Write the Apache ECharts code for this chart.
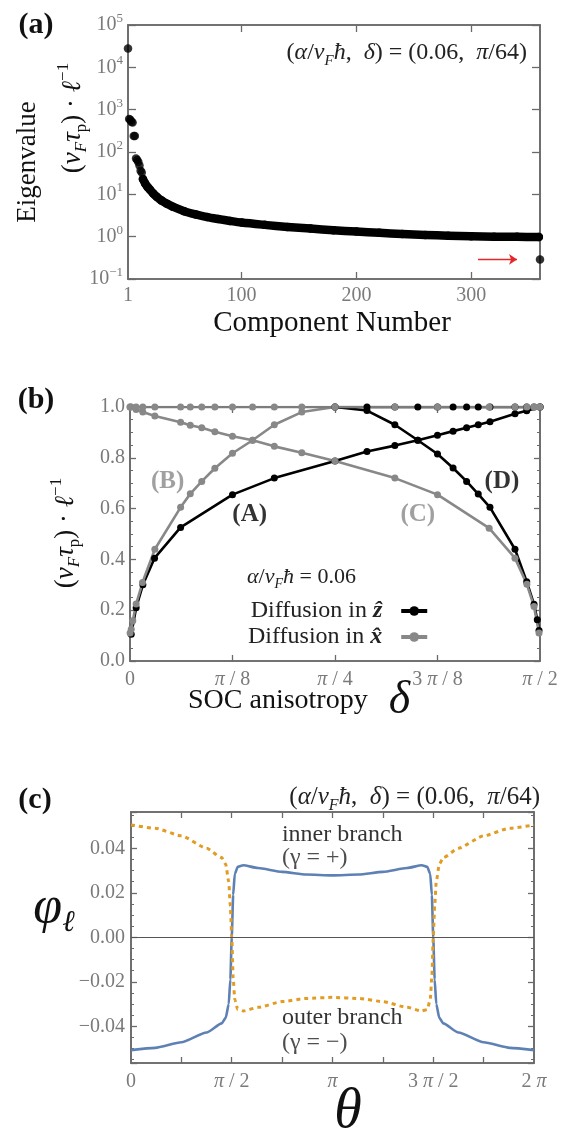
<!DOCTYPE html>
<html>
<head>
<meta charset="utf-8">
<title>Eigenvalues and spin diffusion</title>
<style>
  html, body { margin: 0; padding: 0; background: #fff; }
  #chart { width: 578px; height: 1136px; }
</style>
<script src="https://cdn.jsdelivr.net/npm/echarts@6/dist/echarts.min.js"></script>
</head>
<body>
<div id="chart"></div>
<script>
// ---- panel (a): eigenvalue spectrum ----
const eigEarly = [[1, 28000], [2, 600], [3, 580], [4, 520], [5, 500], [6, 240], [7, 240],
  [8, 70], [9, 65], [10, 58], [11, 48], [12, 36], [13, 33]];
const eigTail = [[14, 23], [16, 18], [18, 15], [20, 13], [23, 10.5], [26, 8.8], [30, 7.2],
  [35, 6.0], [40, 5.1], [50, 4.0], [60, 3.35], [70, 2.9], [80, 2.6], [90, 2.35], [100, 2.15],
  [120, 1.9], [140, 1.7], [160, 1.55], [180, 1.42], [200, 1.32], [220, 1.23], [240, 1.16],
  [260, 1.1], [280, 1.05], [300, 1.02], [320, 1.0], [340, 0.99], [359, 0.98]];
const eigLast = [[360, 0.29]];
const compTicks = [1, 100, 200, 300];

// ---- panel (b): delta in units of pi ----
const zRise = [[0.0015, 0.105], [0.0075, 0.21], [0.0157, 0.30], [0.0299, 0.405], [0.0617, 0.526],
  [0.125, 0.655], [0.176, 0.72], [0.25, 0.787], [0.289, 0.825], [0.323, 0.848], [0.351, 0.869],
  [0.375, 0.889], [0.394, 0.905], [0.4105, 0.918], [0.4247, 0.93], [0.439, 0.942],
  [0.4695, 0.973], [0.4838, 0.985], [0.5, 1.0]];
const zFall = [[0.25, 1.0], [0.289, 0.986], [0.323, 0.93], [0.351, 0.869], [0.375, 0.815],
  [0.394, 0.76], [0.4105, 0.707], [0.4247, 0.657], [0.439, 0.605], [0.4695, 0.44],
  [0.4838, 0.312], [0.4927, 0.223], [0.4967, 0.162], [0.4988, 0.12]];
const zTop = [[0.25, 1], [0.289, 1], [0.323, 1], [0.351, 1], [0.375, 1], [0.394, 1], [0.4105, 1],
  [0.4247, 1], [0.439, 1], [0.4695, 1], [0.4838, 1], [0.4927, 1], [0.5, 1]];
const xRise = [[0.0001, 0.11], [0.0015, 0.125], [0.0034, 0.158], [0.0075, 0.224], [0.0152, 0.309],
  [0.0303, 0.44], [0.0617, 0.605], [0.0735, 0.658], [0.0875, 0.707], [0.1035, 0.759],
  [0.125, 0.818], [0.1495, 0.869], [0.176, 0.93], [0.2095, 0.98], [0.25, 1.0]];
const xFall = [[0.0001, 1.0], [0.0075, 0.99], [0.0156, 0.98], [0.0303, 0.965], [0.0617, 0.94],
  [0.0735, 0.928], [0.0875, 0.918], [0.1035, 0.903], [0.125, 0.885], [0.1495, 0.869],
  [0.176, 0.845], [0.2095, 0.82], [0.25, 0.787], [0.323, 0.72], [0.375, 0.655], [0.438, 0.523],
  [0.4695, 0.405], [0.484, 0.302], [0.4927, 0.215], [0.4988, 0.11]];
const xTop = [[0.0001, 1], [0.0015, 1], [0.0075, 1], [0.0156, 1], [0.0303, 1], [0.0617, 1], [0.0735, 1],
  [0.0875, 1], [0.1035, 1], [0.125, 1], [0.1495, 1], [0.176, 1], [0.2095, 1], [0.25, 1], [0.323, 1],
  [0.375, 1], [0.438, 1], [0.4695, 1], [0.484, 1], [0.4927, 1], [0.4988, 1], [0.5, 1]];
const deltaLabels = { 0: '{n|0}', 125: '{i|π}{n| / 8}', 250: '{i|π}{n| / 4}', 375: '{n|3 }{i|π}{n| / 8}', 500: '{i|π}{n| / 2}' };

// ---- panel (c): theta in units of pi ----
const theta = [0.0001, 0.12, 0.25, 0.375, 0.45, 0.47, 0.485, 0.493, 0.5, 0.507, 0.515, 0.53, 0.557, 0.63, 0.75, 0.87, 1,
  1.13, 1.25, 1.37, 1.443, 1.47, 1.485, 1.493, 1.5, 1.507, 1.515, 1.53, 1.55, 1.625, 1.75, 1.88, 2];
const innerBranch = [-0.0507, -0.0497, -0.0472, -0.0428, -0.0387, -0.0362, -0.030, -0.019, 0, 0.019, 0.0285, 0.0317, 0.0324, 0.0311, 0.0294, 0.0282, 0.0278,
  0.0282, 0.0294, 0.0311, 0.0324, 0.0317, 0.0285, 0.019, 0, -0.019, -0.030, -0.0362, -0.0387, -0.0428, -0.0472, -0.0497, -0.0507];
const outerBranch = [0.0505, 0.049, 0.0456, 0.040, 0.0358, 0.0328, 0.025, 0.014, 0, -0.018, -0.028, -0.0325, -0.0331, -0.0315, -0.0289, -0.0275, -0.027,
  -0.0275, -0.0289, -0.0315, -0.0331, -0.0325, -0.028, -0.018, 0, 0.014, 0.025, 0.0328, 0.0358, 0.040, 0.0456, 0.049, 0.0505];
const thetaLabels = { 0: '{n|0}', 500: '{i|π}{n| / 2}', 1000: '{i|π}', 1500: '{n|3 }{i|π}{n| / 2}', 2000: '{n|2 }{i|π}' };

const FONT = 'Liberation Serif';
const FRAME = '#6a6a6a';
const TICKTXT = '#7a7a7a';
// tiny positive start keeps the x range off zero so the right-hand y axes stay on the right
const X0 = 1e-7;

// rich text styles: n upright, i italic, s italic subscript, r upright subscript, u superscript
function mathRich(size, color, key) {
  const c = {}; c[key] = color;
  const small = Math.round(size * 0.64);
  return {
    n: Object.assign({ fontFamily: FONT, fontSize: size, lineHeight: Math.round(size * 1.3) }, c),
    i: Object.assign({ fontFamily: FONT, fontSize: size, fontStyle: 'italic', lineHeight: Math.round(size * 1.3) }, c),
    b: Object.assign({ fontFamily: FONT, fontSize: size, fontStyle: 'italic', fontWeight: 'bold', lineHeight: Math.round(size * 1.3) }, c),
    s: Object.assign({ fontFamily: FONT, fontSize: small, fontStyle: 'italic', lineHeight: small, verticalAlign: 'bottom' }, c),
    r: Object.assign({ fontFamily: FONT, fontSize: small, lineHeight: small, verticalAlign: 'bottom' }, c),
    u: Object.assign({ fontFamily: FONT, fontSize: small, lineHeight: small, verticalAlign: 'top' }, c)
  };
}

function frameAxis(extra) {
  return Object.assign({
    type: 'value',
    axisLine: { show: true, onZero: false, lineStyle: { color: FRAME, width: 1.6 } },
    axisTick: { show: true, inside: true, length: 6, lineStyle: { color: FRAME, width: 1.3 } },
    axisLabel: { show: false },
    splitLine: { show: false }
  }, extra);
}

function textEl(x, y, text, size, opts) {
  opts = opts || {};
  return {
    type: 'text', x: x, y: y, rotation: opts.rotation || 0, silent: true,
    style: {
      text: text,
      rich: mathRich(size, opts.color || '#111', 'fill'),
      font: (opts.weight || 'normal') + ' ' + size + 'px "' + FONT + '"',
      fill: opts.color || '#111',
      align: opts.align || 'center',
      verticalAlign: 'middle'
    }
  };
}

const paramTitle = '{n|(}{i|α}{n|/}{i|v}{s|F}{i|ħ}{n|,  }{i|δ}{n|) = (0.06,  }{i|π}{n|/64)}';
const rateLabel = '{n|(}{i|v}{s|F}{i|τ}{r|p}{n|) · }{i|ℓ}{u|−1}';

const blackLine = { type: 'line', name: 'z', xAxisIndex: 2, yAxisIndex: 2, symbol: 'circle', symbolSize: 7,
  itemStyle: { color: '#000' }, lineStyle: { color: '#000', width: 2.6 }, silent: true };
const grayLine = { type: 'line', name: 'x', xAxisIndex: 2, yAxisIndex: 2, symbol: 'circle', symbolSize: 7,
  itemStyle: { color: '#888' }, lineStyle: { color: '#888', width: 2.6 }, silent: true };

const frameGrid = { show: true, borderColor: FRAME, borderWidth: 1.6, backgroundColor: 'transparent' };

const option = {
  animation: false,
  backgroundColor: '#fff',
  grid: [
    Object.assign({ left: 128, top: 25, width: 412, height: 254 }, frameGrid),
    Object.assign({ left: 130, top: 407, width: 410, height: 254 }, frameGrid),
    Object.assign({ left: 131, top: 812, width: 403, height: 251 }, frameGrid)
  ],
  xAxis: [
    frameAxis({ gridIndex: 0, min: 1, max: 360, position: 'bottom',
      axisTick: { show: true, inside: true, length: 7, customValues: [100, 200, 300], lineStyle: { color: FRAME, width: 1.3 } },
      axisLabel: { show: true, customValues: compTicks, color: TICKTXT, fontFamily: FONT, fontSize: 20, margin: 7 } }),
    frameAxis({ gridIndex: 0, min: 1, max: 360, position: 'top',
      axisTick: { show: true, inside: true, length: 7, customValues: [100, 200, 300], lineStyle: { color: FRAME, width: 1.3 } } }),
    frameAxis({ gridIndex: 1, min: X0, max: 0.5, position: 'bottom',
      axisTick: { show: true, inside: true, length: 6, customValues: [0.125, 0.25, 0.375], lineStyle: { color: FRAME, width: 1.3 } },
      axisLabel: { show: true, margin: 6, customValues: [X0, 0.125, 0.25, 0.375, 0.5],
        formatter: v => deltaLabels[Math.round(v * 1000)] || '', rich: mathRich(20, TICKTXT, 'color') } }),
    frameAxis({ gridIndex: 1, min: X0, max: 0.5, position: 'top',
      axisTick: { show: true, inside: true, length: 6, customValues: [0.125, 0.25, 0.375], lineStyle: { color: FRAME, width: 1.3 } } }),
    frameAxis({ gridIndex: 2, min: X0, max: 2, position: 'bottom',
      axisTick: { show: true, inside: true, length: 6, customValues: [0.25, 0.5, 0.75, 1, 1.25, 1.5, 1.75], lineStyle: { color: FRAME, width: 1.3 } },
      axisLabel: { show: true, margin: 6, customValues: [X0, 0.5, 1, 1.5, 2],
        formatter: v => thetaLabels[Math.round(v * 1000)] || '', rich: mathRich(20, TICKTXT, 'color') } }),
    frameAxis({ gridIndex: 2, min: X0, max: 2, position: 'top',
      axisTick: { show: true, inside: true, length: 6, customValues: [0.25, 0.5, 0.75, 1, 1.25, 1.5, 1.75], lineStyle: { color: FRAME, width: 1.3 } } })
  ],
  yAxis: [
    frameAxis({ gridIndex: 0, type: 'log', logBase: 10, min: 0.1, max: 100000, position: 'left',
      axisTick: { show: true, inside: true, length: 8, lineStyle: { color: FRAME, width: 1.3 } },
      axisLabel: { show: true, margin: 5,
        formatter: v => { const e = Math.round(Math.log10(v)); return '{n|10}{u|' + (e < 0 ? '−' + (-e) : e) + '}'; },
        rich: mathRich(20, TICKTXT, 'color') } }),
    frameAxis({ gridIndex: 0, type: 'log', logBase: 10, min: 0.1, max: 100000, position: 'right',
      axisTick: { show: true, inside: true, length: 8, lineStyle: { color: FRAME, width: 1.3 } } }),
    frameAxis({ gridIndex: 1, min: 0, max: 1, interval: 0.2, position: 'left',
      minorTick: { show: true, splitNumber: 4, length: 3, lineStyle: { color: FRAME, width: 1 } },
      axisLabel: { show: true, margin: 5, color: TICKTXT, fontFamily: FONT, fontSize: 20, formatter: v => v.toFixed(1) } }),
    frameAxis({ gridIndex: 1, min: 0, max: 1, interval: 0.2, position: 'right',
      minorTick: { show: true, splitNumber: 4, length: 3, lineStyle: { color: FRAME, width: 1 } } }),
    frameAxis({ gridIndex: 2, min: -0.0565, max: 0.0563, position: 'left',
      minorTick: { show: true, splitNumber: 4, length: 3, lineStyle: { color: FRAME, width: 1 } },
      axisLabel: { show: true, margin: 6, color: TICKTXT, fontFamily: FONT, fontSize: 20,
        formatter: v => {
          const k = v / 0.02;
          if (Math.abs(k - Math.round(k)) > 1e-6) return '';
          const r = Math.round(k) * 0.02;
          return r < 0 ? '−' + Math.abs(r).toFixed(2) : Math.abs(r).toFixed(2);
        } } }),
    frameAxis({ gridIndex: 2, min: -0.0565, max: 0.0563, position: 'right',
      minorTick: { show: true, splitNumber: 4, length: 3, lineStyle: { color: FRAME, width: 1 } } })
  ],
  legend: {
    data: ['z', 'x'],
    orient: 'vertical',
    left: 243, top: 594,
    align: 'right',
    itemWidth: 26, itemHeight: 12, itemGap: 2,
    selectedMode: false,
    lineStyle: { width: 4 },
    formatter: n => '{t|Diffusion in }{b|' + (n === 'z' ? 'ẑ' : 'x\u0302') + '}',
    textStyle: {
      lineHeight: 24,
      rich: {
        t: { fontFamily: FONT, fontSize: 24, color: '#222', lineHeight: 24 },
        b: { fontFamily: FONT, fontSize: 24, fontWeight: 'bold', fontStyle: 'italic', color: '#222', lineHeight: 24, padding: [0, 14, 0, 0] }
      }
    }
  },
  graphic: [
    textEl(36, 25, '(a)', 30, { weight: 'bold', color: '#111' }),
    textEl(36, 400, '(b)', 30, { weight: 'bold', color: '#111' }),
    textEl(35, 800, '(c)', 30, { weight: 'bold', color: '#111' }),
    textEl(527, 53, paramTitle, 24, { align: 'right', color: '#222' }),
    textEl(28, 162, 'Eigenvalue', 27, { rotation: Math.PI / 2 }),
    textEl(73, 118, rateLabel, 27, { rotation: Math.PI / 2 }),
    textEl(332, 323, 'Component Number', 29),
    textEl(66, 533, rateLabel, 27, { rotation: Math.PI / 2 }),
    textEl(188, 701, '{n|SOC anisotropy   }{d|δ}', 28, { align: 'left' }),
    textEl(247, 577, '{i|α}{n|/}{i|v}{s|F}{i|ħ}{n| = 0.06}', 22, { align: 'left', color: '#222' }),
    textEl(540, 797, paramTitle, 25, { align: 'right', color: '#222' }),
    textEl(54, 908, '{g|φ}{h|ℓ}', 52, { color: '#111' }),
    textEl(348, 1112, '{g|θ}', 56, { color: '#111' })
  ],
  series: [
    // (a)
    { type: 'scatter', xAxisIndex: 0, yAxisIndex: 0, data: eigEarly, symbolSize: 8.5,
      itemStyle: { color: '#000' }, silent: true, clip: false },
    { type: 'line', xAxisIndex: 0, yAxisIndex: 0, data: eigTail, symbol: 'circle', symbolSize: 8.5,
      smooth: 0.3, itemStyle: { color: '#000' }, lineStyle: { color: '#000', width: 8.5, cap: 'round', join: 'round' }, silent: true },
    { type: 'scatter', xAxisIndex: 0, yAxisIndex: 0, data: eigLast, symbolSize: 8.5, clip: false,
      itemStyle: { color: '#000' }, silent: true,
      markLine: { silent: true, symbol: ['none', 'arrow'], symbolSize: 8, label: { show: false },
        lineStyle: { color: '#e8262a', width: 1.3, type: 'solid' },
        data: [[{ coord: [306, 0.29] }, { coord: [340, 0.29] }]] } },
    // (b)
    Object.assign({ data: zTop }, blackLine),
    Object.assign({ data: zRise }, blackLine),
    Object.assign({ data: zFall }, blackLine),
    Object.assign({ data: xRise }, grayLine),
    Object.assign({ data: xFall }, grayLine),
    Object.assign({ data: xTop }, grayLine, { lineStyle: { color: '#7c7c7c', width: 2.6 } }),
    { type: 'scatter', xAxisIndex: 2, yAxisIndex: 2, symbolSize: 0, silent: true,
      label: { show: true, position: 'inside', fontFamily: FONT, fontSize: 25, fontWeight: 'bold', formatter: p => p.name },
      data: [
        { name: '(A)', value: [0.146, 0.578], label: { color: '#000' } },
        { name: '(B)', value: [0.0458, 0.708], label: { color: '#888' } },
        { name: '(C)', value: [0.351, 0.578], label: { color: '#888' } },
        { name: '(D)', value: [0.4536, 0.708], label: { color: '#000' } }
      ] },
    // (c)
    { type: 'line', xAxisIndex: 4, yAxisIndex: 4, data: theta.map((t, i) => [t, innerBranch[i]]),
      showSymbol: false, smooth: 0.2, smoothMonotone: 'x', silent: true,
      lineStyle: { color: '#5e81b5', width: 2.6 },
      markLine: { silent: true, symbol: 'none', label: { show: false },
        lineStyle: { color: '#555', width: 1, type: 'solid' }, data: [{ yAxis: 0 }] } },
    { type: 'line', xAxisIndex: 4, yAxisIndex: 4, data: theta.map((t, i) => [t, outerBranch[i]]),
      showSymbol: false, smooth: 0.2, smoothMonotone: 'x', silent: true,
      lineStyle: { color: '#e19c24', width: 3, type: [4, 4] } },
    { type: 'scatter', xAxisIndex: 4, yAxisIndex: 4, symbolSize: 0, silent: true,
      label: { show: true, position: 'right', distance: 0, fontFamily: FONT, fontSize: 24, color: '#000', formatter: p => p.name },
      data: [
        { name: 'inner branch', value: [0.749, 0.046] },
        { name: '(γ = +)', value: [0.749, 0.0357], label: { color: '#222' } },
        { name: 'outer branch', value: [0.749, -0.0363] },
        { name: '(γ = −)', value: [0.749, -0.0475], label: { color: '#222' } }
      ] }
  ]
};

// larger glyphs used in some graphic labels
option.graphic.forEach(g => {
  g.style.rich.d = { fontFamily: FONT, fontSize: 46, fontStyle: 'italic', fill: '#111', lineHeight: 48 };
  g.style.rich.g = { fontFamily: FONT, fontSize: g.style.rich.n.fontSize, fontStyle: 'italic', fill: '#111', lineHeight: 60 };
  g.style.rich.h = { fontFamily: FONT, fontSize: 30, fontStyle: 'italic', fill: '#111', lineHeight: 30, verticalAlign: 'bottom' };
});

const chart = echarts.init(document.getElementById('chart'));
chart.setOption(option);
</script>
</body>
</html>
